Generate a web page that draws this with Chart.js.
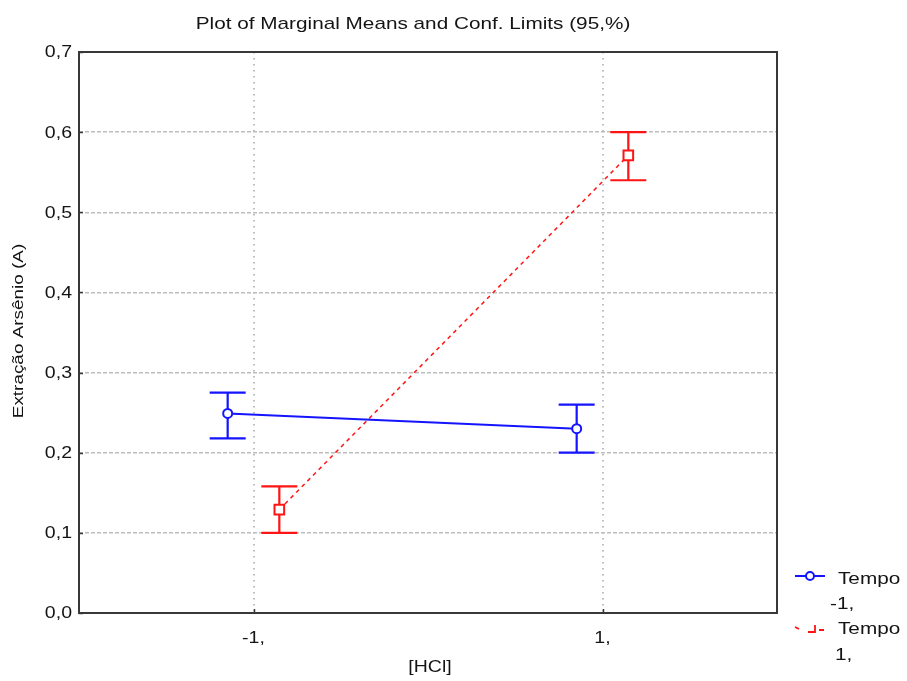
<!DOCTYPE html>
<html>
<head>
<meta charset="utf-8">
<script src="https://cdn.jsdelivr.net/npm/chart.js@4/dist/chart.umd.min.js"></script>
<style>
  html, body { margin: 0; padding: 0; background: #ffffff; }
  canvas { display: block; }
</style>
</head>
<body>
<canvas id="chart" width="907" height="681"></canvas>
<script>
// [HCl] factor levels and their axis labels
const hclLevels = [-1, 1];
const hclLabels = ['-1,', '1,'];

// Marginal means and 95% confidence limits, Tempo = -1
const tempoNegMean = [0.249, 0.230];
const tempoNegLow  = [0.218, 0.200];
const tempoNegHigh = [0.275, 0.260];

// Marginal means and 95% confidence limits, Tempo = 1
const tempoPosMean = [0.129, 0.571];
const tempoPosLow  = [0.100, 0.540];
const tempoPosHigh = [0.158, 0.600];

// Value axis ticks
const yTickValues = [0, 0.1, 0.2, 0.3, 0.4, 0.5, 0.6, 0.7];
const yTickLabels = ['0,0', '0,1', '0,2', '0,3', '0,4', '0,5', '0,6', '0,7'];

// Series names
const seriesNames = [['Tempo', '-1,'], ['Tempo', '1,']];

// Horizontal dodge so the two series don't overlap at each level
const DODGE = 0.148;
const BLUE = '#1414ff';
const RED = '#ff1414';
const TEXT = '#141414';
const FONT = '"Liberation Sans", Arial, sans-serif';
const STRETCH = 1.22;

function stretchedText(ctx, text, x, y, size, align, rot) {
  ctx.save();
  ctx.translate(x, y);
  if (rot) ctx.rotate(rot);
  ctx.scale(STRETCH, 1);
  ctx.font = size + 'px ' + FONT;
  ctx.fillStyle = TEXT;
  ctx.textAlign = align;
  ctx.textBaseline = 'middle';
  ctx.fillText(text, 0, 0);
  ctx.restore();
}

const errorBars = [
  { low: tempoNegLow, high: tempoNegHigh, dodge: -DODGE, color: BLUE },
  { low: tempoPosLow, high: tempoPosHigh, dodge: DODGE, color: RED }
];

const decorPlugin = {
  id: 'decor',
  beforeDraw(chart) {
    const ctx = chart.ctx;
    ctx.save();
    ctx.fillStyle = '#ffffff';
    ctx.fillRect(0, 0, chart.width, chart.height);
    ctx.restore();
  },
  beforeDatasetsDraw(chart) {
    const ctx = chart.ctx;
    const xs = chart.scales.x, ys = chart.scales.y;
    ctx.save();
    ctx.lineWidth = 2.2;
    errorBars.forEach(eb => {
      ctx.strokeStyle = eb.color;
      hclLevels.forEach((lv, i) => {
        const px = xs.getPixelForValue(lv + eb.dodge);
        const yl = ys.getPixelForValue(eb.low[i]);
        const yh = ys.getPixelForValue(eb.high[i]);
        ctx.beginPath();
        ctx.moveTo(px, yl); ctx.lineTo(px, yh);
        ctx.moveTo(px - 18, yl); ctx.lineTo(px + 18, yl);
        ctx.moveTo(px - 18, yh); ctx.lineTo(px + 18, yh);
        ctx.stroke();
      });
    });
    ctx.restore();
  },
  afterDraw(chart) {
    const ctx = chart.ctx;
    const a = chart.chartArea;
    const xs = chart.scales.x, ys = chart.scales.y;

    // plot frame and inner tick marks
    ctx.save();
    ctx.strokeStyle = '#383838';
    ctx.lineWidth = 2;
    ctx.strokeRect(a.left, a.top, a.right - a.left, a.bottom - a.top);
    ctx.lineWidth = 1.5;
    ctx.beginPath();
    yTickValues.forEach(v => {
      const py = Math.round(ys.getPixelForValue(v)) + 0.5;
      ctx.moveTo(a.left, py); ctx.lineTo(a.left + 4, py);
    });
    hclLevels.forEach(v => {
      const px = Math.round(xs.getPixelForValue(v)) + 0.5;
      ctx.moveTo(px, a.bottom); ctx.lineTo(px, a.bottom - 4);
    });
    ctx.stroke();
    ctx.restore();

    // tick labels
    yTickValues.forEach((v, i) => {
      stretchedText(ctx, yTickLabels[i], a.left - 7, ys.getPixelForValue(v) + 1, 16, 'right');
    });
    hclLevels.forEach((v, i) => {
      stretchedText(ctx, hclLabels[i], xs.getPixelForValue(v), a.bottom + 26, 16, 'center');
    });

    // titles
    stretchedText(ctx, 'Plot of Marginal Means and Conf. Limits (95,%)', 413, 24, 17, 'center');
    stretchedText(ctx, 'Extração Arsênio (A)', 19, 331, 15.5, 'center', -Math.PI / 2);
    stretchedText(ctx, '[HCl]', 430, 668, 16, 'center');

    // legend symbols
    ctx.save();
    ctx.strokeStyle = BLUE;
    ctx.lineWidth = 2;
    ctx.beginPath(); ctx.moveTo(795, 576); ctx.lineTo(825, 576); ctx.stroke();
    ctx.fillStyle = '#ffffff';
    ctx.beginPath(); ctx.arc(810, 576, 4, 0, Math.PI * 2); ctx.fill(); ctx.stroke();

    ctx.strokeStyle = RED;
    ctx.lineWidth = 1.8;
    ctx.beginPath();
    ctx.moveTo(795, 627); ctx.lineTo(799, 629);
    ctx.moveTo(808, 632); ctx.lineTo(815, 632); ctx.lineTo(815, 625);
    ctx.moveTo(819, 630); ctx.lineTo(824, 630);
    ctx.stroke();
    ctx.restore();

    stretchedText(ctx, seriesNames[0][0], 838, 579, 17, 'left');
    stretchedText(ctx, seriesNames[0][1], 830, 604, 17, 'left');
    stretchedText(ctx, seriesNames[1][0], 838, 629, 17, 'left');
    stretchedText(ctx, seriesNames[1][1], 835, 655, 17, 'left');
  }
};

new Chart(document.getElementById('chart'), {
  type: 'line',
  data: {
    datasets: [
      {
        label: seriesNames[0].join(' '),
        data: hclLevels.map((lv, i) => ({ x: lv - DODGE, y: tempoNegMean[i] })),
        borderColor: BLUE,
        borderWidth: 2,
        pointStyle: 'circle',
        pointRadius: 4.5,
        pointBorderWidth: 2,
        pointBackgroundColor: '#ffffff',
        pointBorderColor: BLUE,
        tension: 0
      },
      {
        label: seriesNames[1].join(' '),
        data: hclLevels.map((lv, i) => ({ x: lv + DODGE, y: tempoPosMean[i] })),
        borderColor: RED,
        borderWidth: 1.5,
        borderDash: [4, 4],
        pointStyle: 'rect',
        pointRadius: 6.8,
        pointBorderWidth: 2,
        pointBackgroundColor: '#ffffff',
        pointBorderColor: RED,
        tension: 0
      }
    ]
  },
  options: {
    responsive: false,
    devicePixelRatio: 1,
    animation: false,
    layout: { padding: { top: 52, right: 130, left: 0, bottom: 0 } },
    plugins: {
      legend: { display: false },
      title: { display: false },
      tooltip: { enabled: false }
    },
    scales: {
      x: {
        type: 'linear',
        min: -2,
        max: 2,
        afterBuildTicks: s => { s.ticks = hclLevels.map(v => ({ value: v })); },
        afterFit: s => { s.height = 68; },
        ticks: { display: false },
        grid: { color: '#bdbdbd', lineWidth: 2, drawTicks: false },
        border: { display: false, dash: [1.5, 4.5] }
      },
      y: {
        type: 'linear',
        min: 0,
        max: 0.7,
        afterBuildTicks: s => { s.ticks = yTickValues.map(v => ({ value: v })); },
        afterFit: s => { s.width = 79; },
        ticks: { display: false },
        grid: { color: '#bdbdbd', lineWidth: 1.5, drawTicks: false },
        border: { display: false, dash: [4, 2] }
      }
    }
  },
  plugins: [decorPlugin]
});
</script>
</body>
</html>
